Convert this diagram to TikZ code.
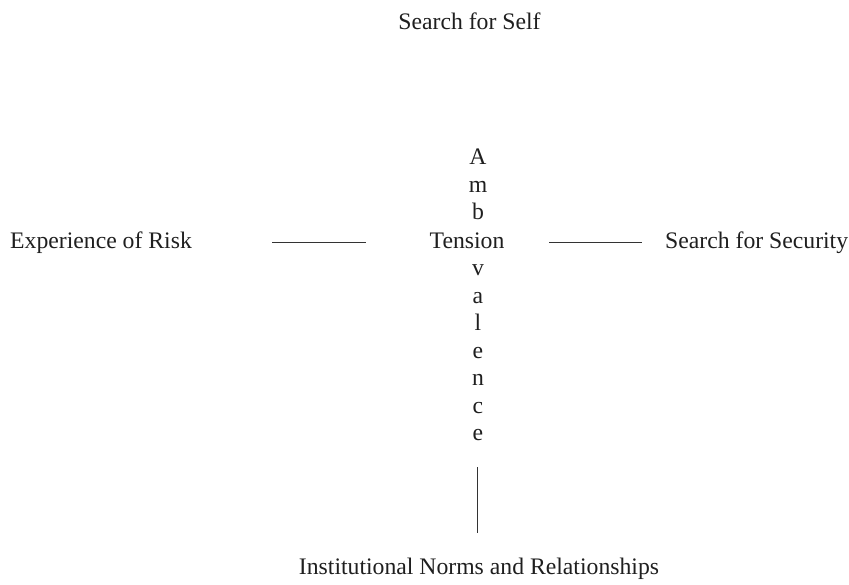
\documentclass[tikz,border=0pt]{standalone}
\usepackage{fontspec}
\setmainfont{Liberation Serif}
\begin{document}
\begin{tikzpicture}[x=1pt,y=-1pt,
  lbl/.style={inner sep=0pt,anchor=base,font=\fontsize{23.7}{24}\selectfont,text=black!88},
  lblw/.style={lbl,anchor=base west},
  col/.style={lbl,text height=0.7em,text depth=0.05em},
  conn/.style={line width=1pt,black!80}]
\useasboundingbox (0,0) rectangle (849,584);
\node[lbl] (self) at (469.5,29) {Search for Self};
\node[lblw] (risk) at (10,248) {Experience of Risk};
\node[lblw] (secur) at (665,248) {Search for Security};
\node[lbl] (inst) at (479,574) {Institutional Norms and Relationships};
\node[col] (tens) at (467,248) {Tension};
\node[col] (a1) at (478,164.5) {A};
\node[col] (a2) at (478,192) {m};
\node[col] (a3) at (478,219.5) {b};
\node[col] (a4) at (478,275.5) {v};
\node[col] (a5) at (478,303) {a};
\node[col] (a6) at (478,330.5) {l};
\node[col] (a7) at (478,358) {e};
\node[col] (a8) at (478,385.5) {n};
\node[col] (a9) at (478,413) {c};
\node[col] (a10) at (478,440.5) {e};
\coordinate (l1a) at (272,242);
\coordinate (l1b) at (366,242);
\coordinate (l2a) at (549,242);
\coordinate (l2b) at (642,242);
\coordinate (v1a) at (477,467);
\coordinate (v1b) at (477,533);
\draw[conn] (l1a) -- (l1b);
\draw[conn] (l2a) -- (l2b);
\draw[conn] (v1a) -- (v1b);
\end{tikzpicture}
\end{document}
